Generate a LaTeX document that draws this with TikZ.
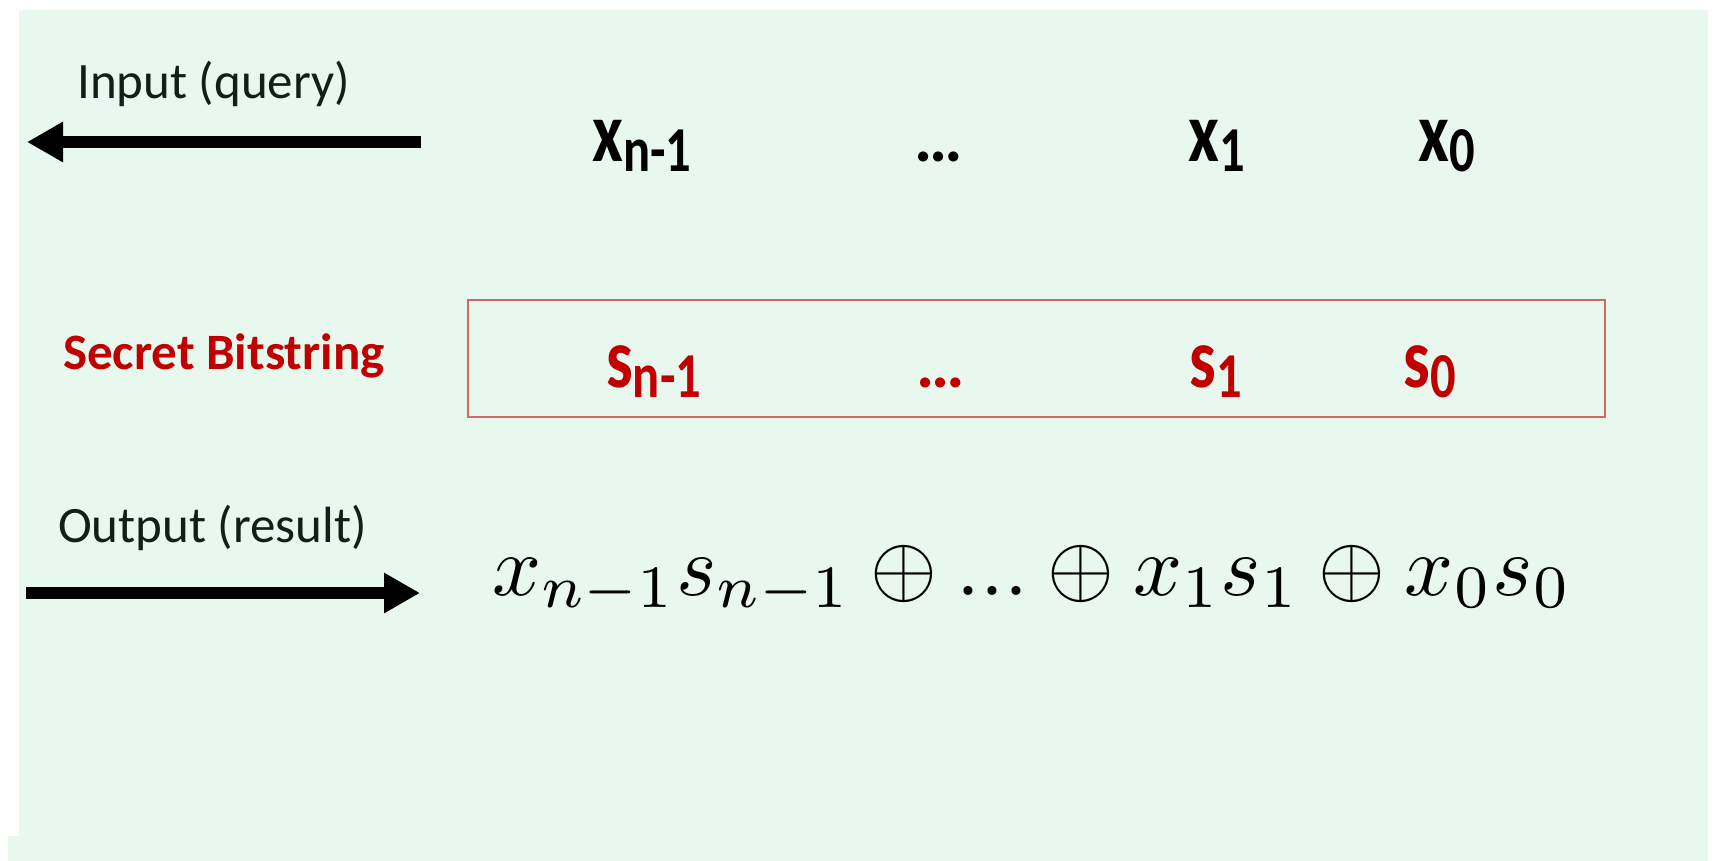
\RequirePackage{fix-cm}
\documentclass[tikz,border=0pt]{standalone}
\usepackage{fontspec}
\usetikzlibrary{arrows.meta}
\newfontfamily\calibri{Carlito}
\definecolor{bg}{RGB}{232,248,238}
\definecolor{sred}{RGB}{192,0,0}
\definecolor{boxred}{RGB}{205,105,105}
\definecolor{ink}{RGB}{20,30,25}
\newcommand\bitlbl[2]{\scalebox{0.79}[1]{\fontsize{85}{100}\selectfont #1\raisebox{-10pt}{\fontsize{64}{76}\selectfont #2}}}
\tikzset{
  lbl/.style={anchor=base west, inner sep=0pt, text=ink, font=\calibri\fontsize{51}{60}\selectfont},
  redlbl/.style={anchor=base west, inner sep=0pt, text=sred, font=\calibri\bfseries\fontsize{51}{60}\selectfont},
  bit/.style={anchor=base west, inner sep=0pt, text=black, font=\calibri\bfseries},
  sbit/.style={bit, text=sred},
  dots/.style={bit, font=\calibri\bfseries\fontsize{68}{80}\selectfont},
  sdots/.style={dots, text=sred},
  bigarrow/.style={line width=12pt, -{Triangle[length=36pt,width=38pt]}, black},
  secretbox/.style={draw=boxred, line width=2pt, fill=none}
}
\begin{document}
\begin{tikzpicture}[x=1pt,y=-1pt]
\useasboundingbox (0,0) rectangle (1714,861);
\fill[white] (0,0) rectangle (1714,861);
\fill[bg] (19,10) rectangle (1708,861);
\fill[bg] (8,836) rectangle (19,861);

% input row
\node[lbl] (inlabel) at (77,99) {Input (query)};
\coordinate (inA) at (421,142);
\coordinate (inB) at (27,142);
\draw[bigarrow] (inA) -- (inB);

\node[bit] (xn) at (592,162) {\bitlbl{x}{n-1}};
\node[dots] (xd) at (914,162) {…};
\node[bit] (x1) at (1188,162) {\bitlbl{x}{1}};
\node[bit] (x0) at (1418,162) {\bitlbl{x}{0}};

% secret row
\node[redlbl] (seclabel) at (63,369) {Secret Bitstring};
\draw[secretbox] (468,299.5) rectangle (1605,416.5);
\node[sbit] (sn) at (606,387) {\bitlbl{s}{n-1}};
\node[sdots] (sd) at (916,387) {…};
\node[sbit] (s1) at (1189,387) {\bitlbl{s}{1}};
\node[sbit] (s0) at (1403,387) {\bitlbl{s}{0}};

% output row
\node[lbl] (outlabel) at (58,542) {Output (result)};
\coordinate (outA) at (26,593);
\coordinate (outB) at (420,593);
\draw[bigarrow] (outA) -- (outB);

\node[anchor=base west, inner sep=0pt] (formula) at (492,595)
  {\scalebox{8.6}{$x_{n-1}s_{n-1}\oplus ... \oplus x_1s_1 \oplus x_0s_0$}};
\end{tikzpicture}
\end{document}
